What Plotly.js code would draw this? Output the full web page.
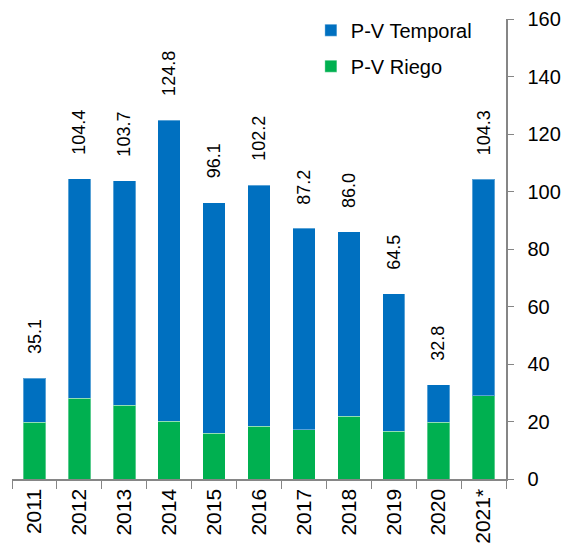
<!DOCTYPE html>
<html>
<head>
<meta charset="utf-8">
<script src="https://cdn.plot.ly/plotly-3.0.1.min.js"></script>
<style>html,body{margin:0;padding:0;background:#fff;}#chart{width:566px;height:550px;}</style>
</head>
<body>
<div id="chart"></div>
<script>
const years = ["2011","2012","2013","2014","2015","2016","2017","2018","2019","2020","2021*"];
const totals = [35.1,104.4,103.7,124.8,96.1,102.2,87.2,86.0,64.5,32.8,104.3];
const riego = [19.8,28.1,25.6,20.1,15.9,18.3,17.2,21.8,16.6,19.8,28.9];
const temporal = [15.3,76.3,78.1,104.7,80.2,83.9,70.0,64.2,47.9,13.0,75.4];
const yTicks = [0,20,40,60,80,100,120,140,160];

const FONT = "Liberation Sans, Arial, sans-serif";
const axisColor = "#868686";

const traces = [
  {type:"bar", name:"P-V Riego", x:years, y:riego, legendgroup:"r", legendrank:2,
   marker:{color:"#00B050", line:{color:"rgba(255,255,255,0.35)", width:1}}, hoverinfo:"y"},
  {type:"bar", name:"P-V Temporal", x:years, y:temporal, legendgroup:"t", legendrank:1,
   marker:{color:"#0070C0", line:{color:"rgba(255,255,255,0.35)", width:1}}, hoverinfo:"y"}
];

const annotations = years.map((yr,i)=>({
  x: i, y: totals[i], xref:"x", yref:"y",
  text: totals[i].toFixed(1), showarrow:false, textangle:-90,
  xanchor:"center", yanchor:"bottom", yshift:22,
  font:{family:FONT, size:18, color:"#000"}
}));

const layout = {
  width:566, height:550, autosize:false,
  paper_bgcolor:"#fff", plot_bgcolor:"#fff",
  margin:{l:12, r:60, t:5, b:71, pad:0},
  barmode:"stack", bargap:0.5,
  font:{family:FONT, color:"#000"},
  showlegend:true,
  legend:{x:0.605, y:0.988, xanchor:"left", yanchor:"top", traceorder:"grouped",
          tracegroupgap:7, font:{family:FONT, size:20, color:"#000"}, bgcolor:"rgba(0,0,0,0)"},
  xaxis:{type:"category", range:[-0.5, years.length-0.5], autorange:false,
         tickangle:-90, tickson:"boundaries", ticks:"outside", ticklen:8,
         tickcolor:axisColor, showline:true, linecolor:axisColor, linewidth:1.5,
         showgrid:false, zeroline:false, automargin:false,
         tickfont:{family:FONT, size:21, color:"#000"}},
  yaxis:{side:"right", domain:[0, 460/474], range:[0,160], autorange:false, tickvals:yTicks, ticktext:yTicks.map(String),
         ticks:"outside", ticklen:6, tickcolor:axisColor, showline:true, linecolor:axisColor,
         linewidth:1.5, showgrid:false, zeroline:false, automargin:false, ticklabelstandoff:10,
         tickfont:{family:FONT, size:20, color:"#000"}},
  annotations: annotations
};

Plotly.newPlot("chart", traces, layout, {displayModeBar:false, staticPlot:true});
</script>
</body>
</html>
